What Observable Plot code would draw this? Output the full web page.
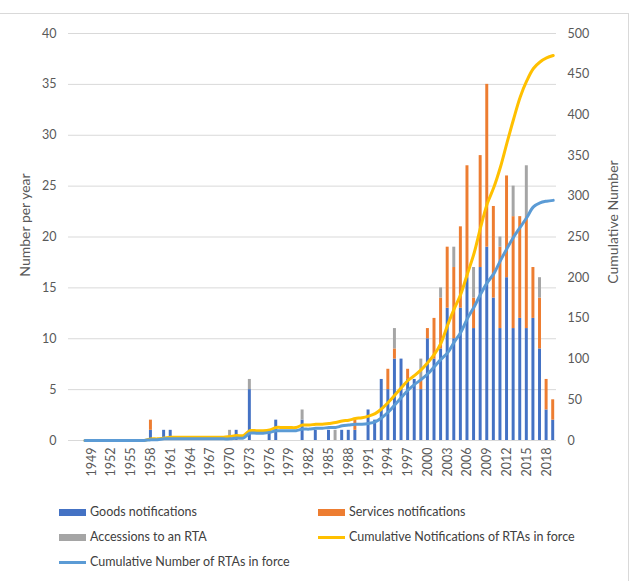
<!DOCTYPE html>
<html>
<head>
<meta charset="utf-8">
<script src="https://cdn.jsdelivr.net/npm/d3@7"></script>
<script src="https://cdn.jsdelivr.net/npm/@observablehq/plot@0.6"></script>
<style>
  body { margin: 0; background: #fff; font-family: Lato, "Open Sans", sans-serif; }
  #wrap { position: relative; width: 636px; height: 581px; overflow: hidden; }
  #frame { position: absolute; left: -2px; top: 13px; width: 631px; height: 600px;
           border-top: 1px solid #d9d9d9; border-right: 1px solid #d9d9d9; box-sizing: border-box; }
  #chart { position: absolute; left: 0; top: 0; }
  .title { position: absolute; white-space: nowrap; font-size: 14px; color: #595959;
           transform: translate(-50%, -50%) rotate(-90deg); }
  .item { position: absolute; font-size: 12.5px; color: #404040; white-space: nowrap; line-height: 14px; }
  .sw { position: absolute; }
</style>
</head>
<body>
<div id="wrap">
  <div id="frame"></div>
  <div id="chart"></div>
  <div class="title" style="left:24px; top:225px;">Number per year</div>
  <div class="title" style="left:612px; top:222px;">Cumulative Number</div>
  <div id="legend"></div>
</div>
<script>
// Years on the category axis (the first few carry no data)
const years = d3.range(1946, 2020);
// Year labels shown under the axis
const labelYears = d3.range(1949, 2019, 3);

// RTA notifications per year, 1946–2019
const goods = [
  0,0,0,0,0,0,0,0,0,0,0,0,           // 1946–1957
  1,0,1,1,0,0,0,0,0,0,0,0,           // 1958–1969
  0,1,0,5,0,0,1,2,0,0,0,2,           // 1970–1981
  0,1,0,1,0,1,1,1,0,3,2,6,           // 1982–1993
  5,8,8,6,6,5,10,8,9,13,10,13,       // 1994–2005
  16,11,17,19,14,11,16,11,12,11,12,9,// 2006–2017
  3,2                                // 2018–2019
];
const services = [
  0,0,0,0,0,0,0,0,0,0,0,0,
  1,0,0,0,0,0,0,0,0,0,0,0,
  0,0,0,0,0,0,0,0,0,0,0,0,
  0,0,0,0,0,0,0,1,0,0,0,0,
  2,1,0,1,0,1,1,4,5,6,7,8,
  11,3,11,16,9,8,10,11,10,11,5,5,
  3,2
];
const accessions = [
  0,0,0,0,0,0,0,0,0,0,0,0,
  0,0,0,0,0,0,0,0,0,0,0,0,
  1,0,0,1,0,0,0,0,0,0,0,1,
  0,0,0,0,1,0,0,0,0,0,0,0,
  0,2,0,0,0,2,0,0,1,0,2,0,
  0,3,0,0,0,1,0,3,0,5,0,2,
  0,0
];

// Running totals of RTAs in force (right axis); no line before 1948
const cumNotifications = [
  null,null,0,0,0,0,0,0,0,0,0,0,     // 1946–1957
  2,2,3,4,4,4,4,4,4,4,4,4,           // 1958–1969
  5,6,6,12,12,12,13,16,16,16,16,19,  // 1970–1981
  19,20,20,21,22,24,25,27,28,30,33,39, // 1982–1993
  47,56,65,74,80,87,96,106,120,142,162,180, // 1994–2005
  205,230,262,291,311,336,366,395,422,442,457,465, // 2006–2017
  470,473
];
const cumRTAs = [
  null,null,0,0,0,0,0,0,0,0,0,0,
  1,1,2,2,2,2,2,2,2,2,2,2,
  2,3,3,9,9,9,10,12,12,12,12,14,
  14,15,15,16,16,18,19,20,20,21,23,28,
  35,44,53,62,69,75,82,91,100,108,121,133,
  150,164,180,194,205,221,236,250,262,274,287,292,
  294,295
];

const types = ["Goods notifications", "Services notifications", "Accessions to an RTA"];
const typeColors = ["#4472C4", "#ED7D31", "#A5A5A5"];
const lineNames = ["Cumulative Notifications of RTAs in force", "Cumulative Number of RTAs in force"];
const lineColors = ["#FFC000", "#5B9BD5"];

const leftTicks = d3.range(0, 41, 5);
const rightTicks = d3.range(0, 501, 50);
const ratio = 500 / 40; // right-axis units per left-axis unit

const bars = years.flatMap((year, i) => [
  {year, type: types[0], value: goods[i]},
  {year, type: types[1], value: services[i]},
  {year, type: types[2], value: accessions[i]}
]);
const cumRows = years.map((year, i) => ({year, notif: cumNotifications[i], rtas: cumRTAs[i]}))
  .filter(d => d.notif != null);

const chart = Plot.plot({
  width: 636,
  height: 485,
  marginTop: 33,
  marginBottom: 45,
  marginLeft: 68,
  marginRight: 80,
  style: {fontFamily: "Lato, 'Open Sans', sans-serif", fontSize: "12.5px", color: "#595959", background: "transparent"},
  x: {type: "band", domain: years, paddingInner: 0.55, paddingOuter: 0.275, label: null, axis: null},
  y: {domain: [0, 40], label: null, axis: null},
  color: {domain: types, range: typeColors},
  marks: [
    Plot.gridY(leftTicks, {stroke: "#d9d9d9", strokeOpacity: 1}),
    Plot.barY(bars, {x: "year", y: "value", fill: "type", order: types}),
    Plot.line(cumRows, {x: "year", y: d => d.notif / ratio, stroke: lineColors[0], strokeWidth: 3, curve: "catmull-rom"}),
    Plot.line(cumRows, {x: "year", y: d => d.rtas / ratio, stroke: lineColors[1], strokeWidth: 3, curve: "catmull-rom"}),
    Plot.axisY({ticks: leftTicks, tickSize: 0, tickPadding: 12, label: null}),
    Plot.axisY({anchor: "right", ticks: rightTicks.map(v => v / ratio), tickFormat: d => String(Math.round(d * ratio)), tickSize: 0, tickPadding: 11, label: null}),
    Plot.axisX({ticks: labelYears, tickFormat: d => String(d), tickRotate: -90, tickSize: 0, tickPadding: 7, label: null})
  ]
});
document.getElementById("chart").append(chart);

// Legend below the chart
const legendItems = [
  {name: types[0], color: typeColors[0], kind: "rect", x: 59, y: 512},
  {name: types[1], color: typeColors[1], kind: "rect", x: 318, y: 512},
  {name: types[2], color: typeColors[2], kind: "rect", x: 59, y: 537},
  {name: lineNames[0], color: lineColors[0], kind: "line", x: 318, y: 537},
  {name: lineNames[1], color: lineColors[1], kind: "line", x: 59, y: 562}
];
const legend = document.getElementById("legend");
for (const it of legendItems) {
  const sw = document.createElement("div");
  sw.className = "sw";
  const h = it.kind === "rect" ? 7 : 3;
  sw.style.cssText = `left:${it.x}px; top:${it.y - h / 2}px; width:27px; height:${h}px; background:${it.color};`;
  legend.append(sw);
  const label = document.createElement("div");
  label.className = "item";
  label.textContent = it.name;
  label.style.left = (it.x + 31) + "px";
  label.style.top = (it.y - 7) + "px";
  legend.append(label);
}
</script>
</body>
</html>
